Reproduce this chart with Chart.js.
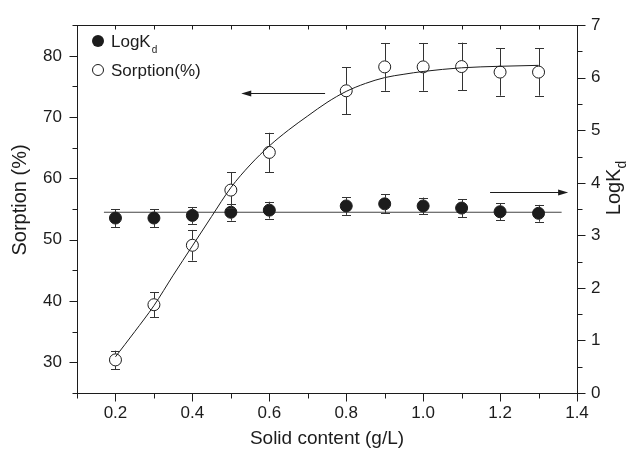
<!DOCTYPE html>
<html><head><meta charset="utf-8">
<script src="https://cdn.jsdelivr.net/npm/chart.js@4/dist/chart.umd.min.js"></script>
<style>html,body{margin:0;padding:0;background:#fff}</style>
</head><body>
<canvas id="c" width="632" height="450"></canvas>
<script>
// ---- data ----
const solidContent = [0.2, 0.3, 0.4, 0.5, 0.6, 0.8, 0.9, 1.0, 1.1, 1.2, 1.3];
const sorption     = [30.4, 39.4, 49.1, 58.1, 64.25, 74.3, 78.2, 78.2, 78.25, 77.35, 77.35];
const sorptionErr  = [1.5, 2.0, 2.5, 2.9, 3.2, 3.8, 3.9, 3.9, 3.9, 3.85, 3.85];
const logKd        = [3.33, 3.33, 3.38, 3.44, 3.48, 3.56, 3.60, 3.56, 3.52, 3.45, 3.42];
const logKdErr     = [0.17, 0.17, 0.16, 0.16, 0.16, 0.17, 0.18, 0.16, 0.17, 0.16, 0.16];
// fitted sigmoid curve
const fitX        = [0.2, 0.25, 0.3, 0.35, 0.4, 0.45, 0.5, 0.55, 0.6, 0.65, 0.7, 0.75, 0.8, 0.85, 0.9, 0.95, 1.0, 1.1, 1.2, 1.3];
const fitSorption = [30.9, 35.0, 39.25, 44.2, 49.0, 53.8, 58.5, 62.2, 65.3, 67.9, 70.2, 72.4, 74.2, 75.5, 76.45, 77.0, 77.45, 78.05, 78.3, 78.45];
// horizontal LogKd fit
const kdFitX = [0.17, 1.36];
const kdFitY = [3.44, 3.44];
// arrows [xStart, xTip, y]
const arrowLeft  = [0.745, 0.527, 73.9];
const arrowRight = [1.174, 1.377, 3.82];
// ticks
const xTicks = [0.1,0.2,0.3,0.4,0.5,0.6,0.7,0.8,0.9,1.0,1.1,1.2,1.3,1.4];
const xTickLabels = ['0.2','0.4','0.6','0.8','1.0','1.2','1.4'];
const leftTicks = [25,30,35,40,45,50,55,60,65,70,75,80,85];
const leftTickLabels = ['30','40','50','60','70','80'];
const rightTicks = [0,0.5,1,1.5,2,2.5,3,3.5,4,4.5,5,5.5,6,6.5,7];
const rightTickLabels = ['0','1','2','3','4','5','6','7'];

const FONT = "'Liberation Sans', Arial, Helvetica, sans-serif";
const INK = '#1c1c1c';

const labelFor = (list) => (v) => list.find(l => Math.abs(parseFloat(l) - v) < 1e-6) || '';
const setTicks = (list) => (scale) => { scale.ticks = list.map(v => ({value: v})); };

const annot = {
  id: 'annot',
  afterDatasetsDraw(chart) {
    const {ctx, scales: {x, y, y2}} = chart;
    const P = v => Math.round(v) + 0.5;
    ctx.save();
    ctx.lineWidth = 1;
    ctx.strokeStyle = '#333';
    const bar = (xv, v, e, sc, r) => {
      const cx = P(x.getPixelForValue(xv));
      const yt = sc.getPixelForValue(v + e), yb = sc.getPixelForValue(v - e), yc = sc.getPixelForValue(v);
      ctx.beginPath();
      ctx.moveTo(cx, yt); ctx.lineTo(cx, yc - r);
      ctx.moveTo(cx, yc + r); ctx.lineTo(cx, yb);
      ctx.moveTo(cx - 4.5, P(yt)); ctx.lineTo(cx + 4.5, P(yt));
      ctx.moveTo(cx - 4.5, P(yb)); ctx.lineTo(cx + 4.5, P(yb));
      ctx.stroke();
    };
    solidContent.forEach((xv, i) => {
      bar(xv, sorption[i], sorptionErr[i], y, 6);
      bar(xv, logKd[i], logKdErr[i], y2, 6);
    });
    ctx.strokeStyle = INK; ctx.fillStyle = INK;
    const arrow = (arr, sc) => {
      const x0 = x.getPixelForValue(arr[0]), x1 = x.getPixelForValue(arr[1]), yy = P(sc.getPixelForValue(arr[2]));
      const d = Math.sign(x1 - x0);
      ctx.beginPath(); ctx.moveTo(x0, yy); ctx.lineTo(x1 - d * 8, yy); ctx.stroke();
      ctx.beginPath(); ctx.moveTo(x1, yy); ctx.lineTo(x1 - d * 10, yy - 3); ctx.lineTo(x1 - d * 10, yy + 3); ctx.closePath(); ctx.fill();
    };
    arrow(arrowLeft, y);
    arrow(arrowRight, y2);
    ctx.restore();
  },
  afterDraw(chart) {
    const {ctx, chartArea: a, scales: {x, y, y2}} = chart;
    const P = v => Math.round(v) + 0.5;
    ctx.save();
    ctx.strokeStyle = INK; ctx.lineWidth = 1;
    const L = P(a.left), R = P(a.right), T = P(a.top), B = P(a.bottom);
    ctx.strokeRect(L, T, R - L, B - T);
    ctx.beginPath();
    x.ticks.forEach(t => {
      const px = P(x.getPixelForValue(t.value));
      const len = labelFor(xTickLabels)(t.value) ? 8 : 5;
      ctx.moveTo(px, B); ctx.lineTo(px, B + len);
      ctx.moveTo(px, T); ctx.lineTo(px, T + 4);
    });
    y.ticks.forEach(t => {
      const py = P(y.getPixelForValue(t.value));
      const len = labelFor(leftTickLabels)(t.value) ? 8 : 5;
      ctx.moveTo(L, py); ctx.lineTo(L - len, py);
    });
    y2.ticks.forEach(t => {
      const py = P(y2.getPixelForValue(t.value));
      const len = labelFor(rightTickLabels)(t.value) ? 8 : 5;
      ctx.moveTo(R, py); ctx.lineTo(R + len, py);
    });
    ctx.stroke();

    // axis titles
    ctx.fillStyle = INK;
    ctx.textBaseline = 'middle';
    ctx.textAlign = 'center';
    ctx.font = '19px ' + FONT;
    ctx.fillText('Solid content (g/L)', (a.left + a.right) / 2, 439);
    ctx.save();
    ctx.font = '20px ' + FONT;
    ctx.translate(20, 200); ctx.rotate(-Math.PI / 2);
    ctx.fillText('Sorption (%)', 0, 0);
    ctx.restore();
    // right title with subscript
    ctx.save();
    ctx.translate(613, 188); ctx.rotate(-Math.PI / 2);
    ctx.textAlign = 'left'; ctx.textBaseline = 'alphabetic';
    ctx.font = '20px ' + FONT;
    const w1 = ctx.measureText('LogK').width;
    ctx.font = '14px ' + FONT;
    const w2 = ctx.measureText('d').width;
    const sx = -(w1 + w2) / 2;
    ctx.font = '20px ' + FONT;
    ctx.fillText('LogK', sx, 7);
    ctx.font = '14px ' + FONT;
    ctx.fillText('d', sx + w1, 13);
    ctx.restore();

    // legend
    ctx.beginPath(); ctx.arc(98, 41, 6, 0, Math.PI * 2); ctx.fillStyle = INK; ctx.fill();
    ctx.beginPath(); ctx.arc(98, 70, 5.5, 0, Math.PI * 2); ctx.lineWidth = 1; ctx.stroke();
    ctx.textAlign = 'left'; ctx.textBaseline = 'alphabetic';
    ctx.font = '17px ' + FONT;
    ctx.fillText('LogK', 111, 47);
    const lw = ctx.measureText('LogK').width;
    ctx.font = '10px ' + FONT;
    ctx.fillText('d', 111 + lw + 1, 53);
    ctx.font = '17px ' + FONT;
    ctx.fillText('Sorption(%)', 111, 76);
    ctx.restore();
  }
};

const tickFont = {family: FONT, size: 17};
new Chart(document.getElementById('c'), {
  type: 'scatter',
  data: {
    datasets: [
      { label: 'LogKd', yAxisID: 'y2', order: 0,
        data: solidContent.map((v, i) => ({x: v, y: logKd[i]})),
        pointRadius: 6, pointBackgroundColor: INK, pointBorderColor: INK, pointBorderWidth: 1 },
      { label: 'Sorption(%)', yAxisID: 'y', order: 0,
        data: solidContent.map((v, i) => ({x: v, y: sorption[i]})),
        pointRadius: 6, pointBackgroundColor: 'rgba(0,0,0,0)', pointBorderColor: INK, pointBorderWidth: 1 },
      { label: 'fit', yAxisID: 'y', order: 1, showLine: true,
        data: fitX.map((v, i) => ({x: v, y: fitSorption[i]})),
        pointRadius: 0, borderColor: INK, borderWidth: 1, tension: 0.4, cubicInterpolationMode: 'monotone' },
      { label: 'kdfit', yAxisID: 'y2', order: 1, showLine: true,
        data: kdFitX.map((v, i) => ({x: v, y: kdFitY[i]})),
        pointRadius: 0, borderColor: '#444', borderWidth: 1.2 }
    ]
  },
  options: {
    responsive: false, animation: false, events: [],
    layout: {padding: {top: 19, left: 0, right: 0, bottom: 0}},
    plugins: {legend: {display: false}, tooltip: {enabled: false}},
    scales: {
      x: { type: 'linear', min: 0.1, max: 1.4,
        afterBuildTicks: setTicks(xTicks),
        afterFit: s => { s.height = 57; },
        grid: {display: false, drawTicks: false}, border: {display: false},
        ticks: {autoSkip: false, maxRotation: 0, padding: 10, color: INK, font: tickFont, callback: labelFor(xTickLabels)} },
      y: { type: 'linear', position: 'left', min: 25, max: 85,
        afterBuildTicks: setTicks(leftTicks),
        afterFit: s => { s.width = 77; },
        grid: {display: false, drawTicks: false}, border: {display: false},
        ticks: {autoSkip: false, padding: 15, color: INK, font: tickFont, callback: labelFor(leftTickLabels)} },
      y2: { type: 'linear', position: 'right', min: 0, max: 7,
        afterBuildTicks: setTicks(rightTicks),
        afterFit: s => { s.width = 55; },
        grid: {display: false, drawTicks: false}, border: {display: false},
        ticks: {autoSkip: false, padding: 14, color: INK, font: tickFont, callback: labelFor(rightTickLabels)} }
    }
  },
  plugins: [annot]
});
</script>
</body></html>
